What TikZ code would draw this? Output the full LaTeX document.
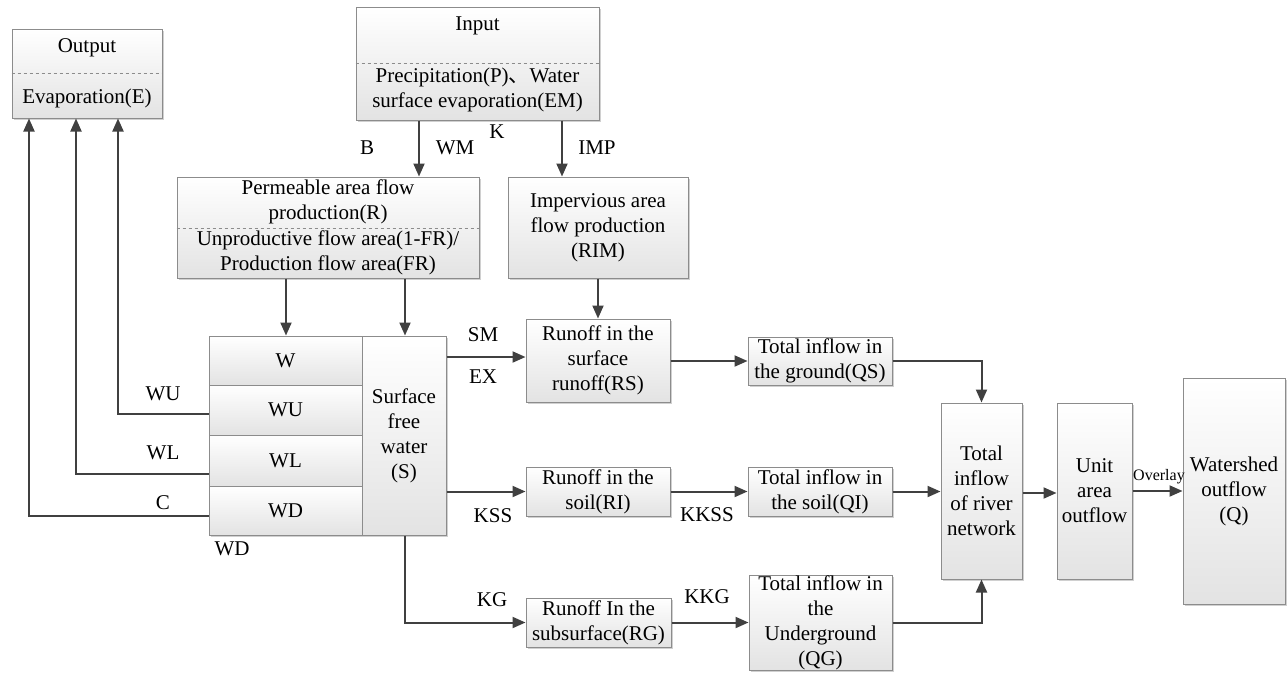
\documentclass[tikz,border=0pt]{standalone}
\usepackage{fontspec}
\setmainfont{Liberation Serif}
\newfontfamily\cjk{Noto Sans CJK SC}
\usetikzlibrary{arrows.meta,shadows}
\definecolor{ln}{HTML}{404040}
\definecolor{bd}{HTML}{8C8C8C}
\tikzset{
  box/.style={draw=bd, line width=1pt, top color=white, bottom color=black!11,
    drop shadow={shadow xshift=1.5pt, shadow yshift=-1.5pt, fill=black!30, opacity=0.6},
    inner sep=0pt, align=center, font=\fontsize{21}{25}\selectfont},
  txt/.style={inner sep=0pt, align=center, font=\fontsize{21}{25}\selectfont},
  lbl/.style={inner sep=0pt, font=\fontsize{21}{25}\selectfont},
  arr/.style={draw=ln, line width=2pt, -{Triangle[length=13pt,width=11pt]}},
  sep/.style={draw=bd, line width=0.8pt, dashed},
}
\begin{document}
\begin{tikzpicture}[x=1pt,y=-1pt]
\useasboundingbox[fill=white] (0,0) rectangle (1288,673);

% Output
\node[box, minimum width=150pt, minimum height=89pt] (out) at (87,73.5) {};
\draw[sep] (out.west |- 0,73) -- (out.east |- 0,73);
\node[txt] (outT) at (87,48) {Output};
\node[txt] (outE) at (87,98) {Evaporation(E)};

% Input
\node[box, minimum width=243pt, minimum height=113pt] (inp) at (477.5,63.5) {};
\draw[sep] (inp.west |- 0,63) -- (inp.east |- 0,63);
\node[txt] (inpT) at (477.5,26) {Input};
\node[txt] (inpP) at (477.5,90) {Precipitation(P){\cjk 、}Water\\surface evaporation(EM)};

% Permeable
\node[box, minimum width=302pt, minimum height=101pt] (perm) at (328,227.5) {};
\draw[sep] (perm.west |- 0,228) -- (perm.east |- 0,228);
\node[txt] (permA) at (328,202) {Permeable area flow\\production(R)};
\node[txt] (permB) at (328,253) {Unproductive flow area(1-FR)/\\Production flow area(FR)};

% Impervious
\node[box, minimum width=180pt, minimum height=101pt] (imp) at (598,227.5) {Impervious area\\flow production\\(RIM)};

% Soil storage
\node[box, minimum width=153pt, minimum height=49pt] (w) at (285.5,360.5) {W};
\node[box, minimum width=153pt, minimum height=50pt] (wu) at (285.5,410) {WU};
\node[box, minimum width=153pt, minimum height=51pt] (wl) at (285.5,460.5) {WL};
\node[box, minimum width=153pt, minimum height=49pt] (wd) at (285.5,510.5) {WD};
\node[box, minimum width=84pt, minimum height=199pt] (sfw) at (404,435.5) {Surface\\free\\water\\(S)};

% Runoff boxes
\node[box, minimum width=144pt, minimum height=83pt] (rs) at (598,360.5) {Runoff in the\\surface\\runoff(RS)};
\node[box, minimum width=144pt, minimum height=48pt] (qs) at (820,361) {Total inflow in\\the ground(QS)};
\node[box, minimum width=144pt, minimum height=49pt] (ri) at (598,491.5) {Runoff in the\\soil(RI)};
\node[box, minimum width=144pt, minimum height=49pt] (qi) at (820,491.5) {Total inflow in\\the soil(QI)};
\node[box, minimum width=145pt, minimum height=49pt] (rg) at (598.5,622.5) {Runoff In the\\subsurface(RG)};
\node[box, minimum width=143pt, minimum height=95pt] (qg) at (820.5,622.5) {Total inflow in\\the\\Underground\\(QG)};
\node[box, minimum width=81pt, minimum height=176pt] (river) at (981.5,491) {Total\\inflow\\of river\\network};
\node[box, minimum width=75pt, minimum height=176pt] (unit) at (1094.5,491) {Unit\\area\\outflow};
\node[box, minimum width=102pt, minimum height=226pt] (ws) at (1234,491) {Watershed\\outflow\\(Q)};

% Connectors
\draw[arr] (inp.south -| 419,0) -- (perm.north -| 419,0);
\draw[arr] (inp.south -| 562,0) -- (imp.north -| 562,0);
\draw[arr] (wu.west |- 0,414) -| (out.south -| 118,0);
\draw[arr] (wl.west |- 0,474) -| (out.south -| 76,0);
\draw[arr] (wd.west |- 0,516) -| (out.south -| 29,0);
\draw[arr] (perm.south -| 286,0) -- (w.north -| 286,0);
\draw[arr] (perm.south -| 405,0) -- (sfw.north -| 405,0);
\draw[arr] (imp.south) -- (rs.north);
\draw[arr] (sfw.east |- 0,357) -- (rs.west |- 0,357);
\draw[arr] (rs.east |- qs.west) -- (qs.west);
\draw[arr] (qs.east) -| (river.north);
\draw[arr] (sfw.east |- ri.west) -- (ri.west);
\draw[arr] (ri.east) -- (qi.west);
\draw[arr] (qi.east) -- (river.west |- qi.east);
\draw[arr] (sfw.south -| 405,0) |- (rg.west);
\draw[arr] (rg.east) -- (qg.west);
\draw[arr] (qg.east) -| (river.south);
\draw[arr] (river.east |- 0,493) -- (unit.west |- 0,493);
\draw[arr] (unit.east) -- (ws.west);

% Labels
\node[lbl] (lB) at (367,148) {B};
\node[lbl] (lWM) at (455,148) {WM};
\node[lbl] (lK) at (497,132) {K};
\node[lbl] (lIMP) at (597,148) {IMP};
\node[lbl] (lSM) at (483,335) {SM};
\node[lbl] (lEX) at (483,377) {EX};
\node[lbl] (lKSS) at (493,516) {KSS};
\node[lbl] (lKKSS) at (707,515) {KKSS};
\node[lbl] (lKG) at (492,600) {KG};
\node[lbl] (lKKG) at (707,597) {KKG};
\node[lbl] (lWU) at (163,394) {WU};
\node[lbl] (lWL) at (163,453) {WL};
\node[lbl] (lC) at (163,503) {C};
\node[lbl] (lWD) at (232,549) {WD};
\node[inner sep=0pt, font=\fontsize{16}{18}\selectfont] (lOv) at (1159,477) {Overlay};
\end{tikzpicture}
\end{document}
